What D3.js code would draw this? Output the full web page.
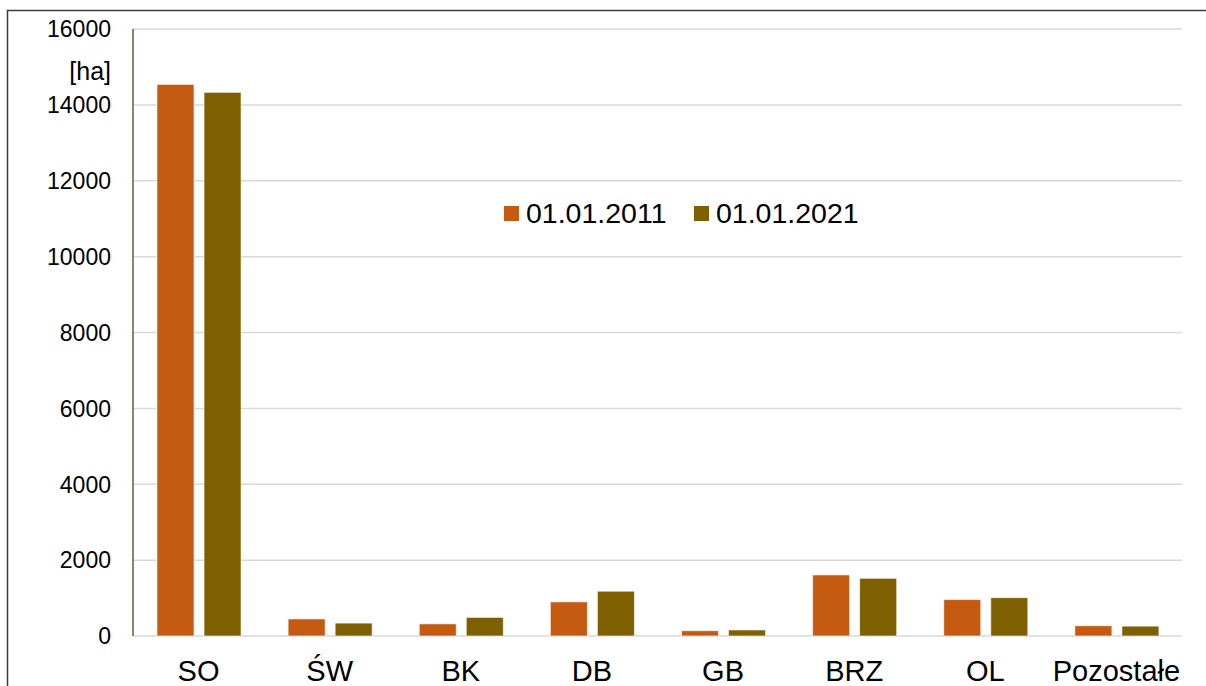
<!DOCTYPE html>
<html>
<head>
<meta charset="utf-8">
<script src="https://cdn.jsdelivr.net/npm/d3@7"></script>
<style>
    body { margin: 0; background: #fff; }
    svg { display: block; font-family: "Liberation Sans", Arial, sans-serif; }
</style>
</head>
<body>
<div id="chart"></div>
<script>
const categories = ['SO', 'ŚW', 'BK', 'DB', 'GB', 'BRZ', 'OL', 'Pozostałe'];
const seriesNames = ['01.01.2011', '01.01.2021'];
const values2011 = [14540, 450, 320, 900, 140, 1610, 960, 270];
const values2021 = [14330, 340, 490, 1180, 160, 1520, 1010, 260];
const yTicks = [0, 2000, 4000, 6000, 8000, 10000, 12000, 14000, 16000];
const colors = ['#c55a11', '#7f6000'];

const width = 1206, height = 686;

const svg = d3.select('#chart').append('svg')
    .attr('width', width)
    .attr('height', height);

// outer frame (runs off the right and bottom edge)
svg.append('rect')
    .attr('x', 7.5).attr('y', 10.5)
    .attr('width', 1300).attr('height', 800)
    .attr('fill', 'none')
    .attr('stroke', '#3a3a3a')
    .attr('stroke-width', 1.5);

const y = d3.scaleLinear().domain([0, 16000]).range([636, 29]);
const x0 = d3.scaleBand().domain(categories).range([133, 1182]);
const x1 = d3.scaleBand().domain(seriesNames)
    .range([x0.bandwidth() * 0.183, x0.bandwidth() * 0.824])
    .paddingInner(0.213);

// gridlines
svg.append('g')
    .selectAll('line')
    .data(yTicks)
    .enter()
    .append('line')
    .attr('x1', 133).attr('x2', 1182)
    .attr('y1', d => y(d)).attr('y2', d => y(d))
    .attr('stroke', '#d9d9d9')
    .attr('stroke-width', 1.5);

// y tick labels
svg.append('g')
    .selectAll('text')
    .data(yTicks)
    .enter()
    .append('text')
    .attr('x', 111)
    .attr('y', d => y(d))
    .attr('dy', '0.36em')
    .attr('text-anchor', 'end')
    .style('font-size', '23px')
    .attr('fill', '#000')
    .text(d => d);

svg.append('text')
    .attr('x', 111).attr('y', 71)
    .attr('dy', '0.36em')
    .attr('text-anchor', 'end')
    .style('font-size', '25px')
    .text('[ha]');

// bars
const rows = categories.map((c, i) => ({ cat: c, vals: [values2011[i], values2021[i]] }));

const groups = svg.append('g')
    .selectAll('g')
    .data(rows)
    .enter()
    .append('g')
    .attr('transform', d => `translate(${x0(d.cat)},0)`);

groups.selectAll('rect')
    .data(d => d.vals.map((v, j) => ({ name: seriesNames[j], v: v, j: j })))
    .enter()
    .append('rect')
    .attr('x', d => x1(d.name))
    .attr('width', x1.bandwidth())
    .attr('y', d => y(d.v))
    .attr('height', d => y(0) - y(d.v))
    .attr('fill', d => colors[d.j])
    .attr('stroke', 'rgba(255,255,255,0.6)')
    .attr('stroke-width', 1);

// y axis line
svg.append('line')
    .attr('x1', 133).attr('x2', 133)
    .attr('y1', y(16000)).attr('y2', y(0))
    .attr('stroke', '#4f6b2c')
    .attr('stroke-width', 1.5);

// category labels
svg.append('g')
    .selectAll('text')
    .data(categories)
    .enter()
    .append('text')
    .attr('x', d => x0(d) + x0.bandwidth() / 2)
    .attr('y', 681)
    .attr('text-anchor', 'middle')
    .style('font-size', '29px')
    .text(d => d);

// legend
const legendX = [504, 694];
const legend = svg.append('g')
    .selectAll('g')
    .data(seriesNames)
    .enter()
    .append('g')
    .attr('transform', (d, i) => `translate(${legendX[i]},206)`);

legend.append('rect')
    .attr('width', 15).attr('height', 15)
    .attr('fill', (d, i) => colors[i]);

legend.append('text')
    .attr('x', 22).attr('y', 17)
    .style('font-size', '28.5px')
    .text(d => d);
</script>
</body>
</html>
